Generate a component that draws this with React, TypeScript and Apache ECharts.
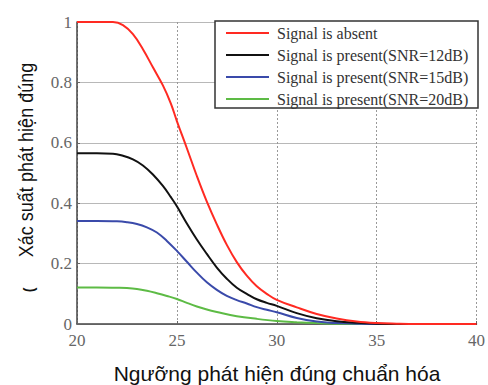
import React, { useEffect, useRef } from "react";
import * as echarts from "echarts";

const seriesNames = [
  "Signal is absent",
  "Signal is present(SNR=12dB)",
  "Signal is present(SNR=15dB)",
  "Signal is present(SNR=20dB)",
];
const seriesColors = ["#ff2a22", "#111111", "#3a4aaa", "#5dbb45"];

const absent: [number, number][] = [
  [20, 1], [21, 1], [21.8, 1], [22.3, 0.99], [22.8, 0.96], [23.3, 0.91], [23.8, 0.85], [24.3, 0.79],
  [24.7, 0.73], [25, 0.672], [25.5, 0.582], [26, 0.49], [26.5, 0.405], [27, 0.33],
  [27.5, 0.262], [28, 0.205], [28.5, 0.16], [29, 0.125], [29.5, 0.1], [30, 0.08],
  [31, 0.055], [32, 0.033], [33, 0.018], [34, 0.008], [35, 0.003], [36, 0.001], [37, 0], [40, 0],
];
const snr12: [number, number][] = [
  [20, 0.565], [21, 0.565], [21.8, 0.564], [22.3, 0.557], [22.8, 0.545], [23.3, 0.525], [23.8, 0.495],
  [24.3, 0.457], [24.7, 0.42], [25, 0.39], [25.5, 0.333], [26, 0.28], [26.5, 0.232], [27, 0.187],
  [27.5, 0.15], [28, 0.12], [28.5, 0.1], [29, 0.082], [29.5, 0.07], [30, 0.06],
  [31, 0.036], [32, 0.019], [33, 0.009], [34, 0.004], [35, 0.001], [36, 0], [40, 0],
];
const snr15: [number, number][] = [
  [20, 0.341], [21, 0.341], [22, 0.34], [22.5, 0.337], [23, 0.331], [23.5, 0.32], [24, 0.303],
  [24.5, 0.275], [25, 0.242], [25.5, 0.206], [26, 0.17], [26.5, 0.138], [27, 0.113],
  [27.5, 0.093], [28, 0.079], [28.5, 0.068], [29, 0.056], [29.5, 0.047], [30, 0.039],
  [31, 0.02], [32, 0.008], [33, 0.003], [34, 0.001], [35, 0], [40, 0],
];
const snr20: [number, number][] = [
  [20, 0.121], [21, 0.121], [22, 0.12], [22.5, 0.119], [23, 0.116], [23.5, 0.11], [24, 0.102],
  [24.5, 0.093], [25, 0.083], [25.5, 0.07], [26, 0.058], [26.5, 0.048], [27, 0.04],
  [28, 0.026], [29, 0.017], [30, 0.01], [31, 0.006], [32, 0.003], [33, 0.001], [34, 0], [40, 0],
];
const seriesData = [absent, snr12, snr15, snr20];

const xTitle = "Ngưỡng phát hiện đúng chuẩn hóa";
const yTitle = "Xác suất phát hiện đúng";

export default function App() {
  const ref = useRef<HTMLDivElement>(null);
  useEffect(() => {
    if (!ref.current) return;
    const chart = echarts.init(ref.current, null, { renderer: "svg" });
    const serif = "'Liberation Serif', 'Times New Roman', serif";
    const sans = "'Liberation Sans', Arial, sans-serif";
    chart.setOption({
      animation: false,
      backgroundColor: "#ffffff",
      grid: { left: 77, right: 10, top: 22, bottom: 61 },
      xAxis: {
        type: "value",
        min: 20,
        max: 40,
        interval: 5,
        axisLine: { show: true, onZero: false, lineStyle: { color: "#444", width: 1.5 } },
        axisTick: { show: true, inside: true, length: 3, lineStyle: { color: "#666" } },
        axisLabel: { color: "#666", fontFamily: serif, fontSize: 17, margin: 8 },
        splitLine: { show: true, lineStyle: { color: "#999", type: [2, 2], width: 1 } },
      },
      yAxis: {
        type: "value",
        min: 0,
        max: 1,
        interval: 0.2,
        axisLine: { show: true, lineStyle: { color: "#444", width: 1.5 } },
        axisTick: { show: true, inside: true, length: 3, lineStyle: { color: "#666" } },
        axisLabel: { color: "#666", fontFamily: serif, fontSize: 17, margin: 5 },
        splitLine: { show: true, lineStyle: { color: "#b8b8b8", width: 1.2 } },
      },
      legend: {
        orient: "vertical",
        left: 215,
        top: 21,
        padding: [4, 8, 0, 10],
        itemWidth: 43,
        itemHeight: 14,
        itemGap: 6,
        itemStyle: { opacity: 0 },
        data: seriesNames,
        z: 20,
        textStyle: {
          fontFamily: serif,
          fontSize: 16,
          lineHeight: 14,
          color: "#333",
          padding: [0, 0, 0, 3],
        },
      },
      graphic: [
        {
          type: "rect",
          z: 15,
          shape: { x: 215, y: 21, width: 263, height: 87 },
          style: { fill: "#ffffff", stroke: "#333", lineWidth: 1.5 },
        },
        {
          type: "text",
          x: 25,
          y: 160,
          rotation: Math.PI / 2,
          scaleX: 0.86,
          style: {
            text: yTitle,
            font: `21px ${sans}`,
            fill: "#111",
            textAlign: "center",
            textVerticalAlign: "middle",
          },
        },
        {
          type: "text",
          x: 29,
          y: 290,
          rotation: Math.PI / 2,
          style: {
            text: "(",
            font: `bold 14px ${sans}`,
            fill: "#111",
            textAlign: "center",
            textVerticalAlign: "middle",
          },
        },
        {
          type: "text",
          x: 277,
          y: 373,
          style: {
            text: xTitle,
            font: `21px ${sans}`,
            fill: "#111",
            textAlign: "center",
            textVerticalAlign: "middle",
          },
        },
      ],
      series: seriesNames.map((name, i) => ({
        name,
        type: "line",
        data: seriesData[i],
        smooth: 0.4,
        symbol: "none",
        lineStyle: { color: seriesColors[i], width: 2 },
        itemStyle: { color: seriesColors[i] },
        z: 10 - i,
      })),
    });
    return () => chart.dispose();
  }, []);
  return (
    <div
      ref={ref}
      style={{ position: "fixed", left: 0, top: 0, width: 488, height: 385 }}
    />
  );
}
